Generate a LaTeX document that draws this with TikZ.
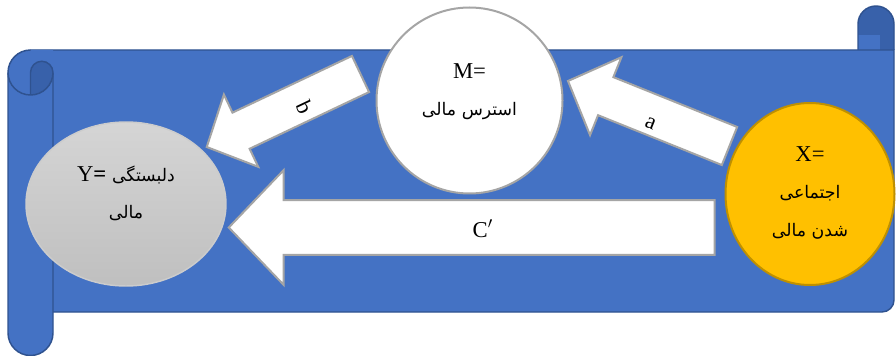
\documentclass[tikz,border=0pt]{standalone}
\usepackage{fontspec}
\setmainfont{Liberation Serif}
\newfontfamily\farsi[Script=Arabic]{DejaVu Sans}
\TeXXeTstate=1
\usepackage{tikz}
\usetikzlibrary{shapes.geometric, calc, positioning}

\definecolor{scrollblue}{HTML}{4472C4}
\definecolor{scrollline}{HTML}{2F528F}
\definecolor{scrolldark}{HTML}{3861AA}
\definecolor{gold}{HTML}{FFC000}
\definecolor{goldline}{HTML}{BF9000}
\definecolor{arrline}{HTML}{A5A5A5}

\newcommand{\fa}[1]{{\farsi\fontsize{13}{28}\selectfont #1}}

\begin{document}
\begin{tikzpicture}[
    x=0.75pt, y=-0.75pt,
    scroll/.style={fill=scrollblue, draw=scrollline, line width=1.1pt},
    edge/.style={draw=scrollline, line width=1.1pt},
    varfont/.style={font=\fontsize{17}{28}\selectfont, align=center},
    ynode/.style={ellipse, minimum width=150pt, minimum height=123pt, top color=gray!33, bottom color=gray!50, draw=gray!40, line width=1.1pt},
    mnode/.style={circle, minimum size=139.5pt, fill=white, draw=arrline, line width=1.5pt},
    xnode/.style={ellipse, minimum width=126.75pt, minimum height=136.5pt, fill=gold, draw=goldline, line width=1.5pt},
    bigarrow/.style args={#1/#2/#3}{fill=white, draw=arrline, line width=1.5pt, line join=miter,
        to path={($(\tikztostart)!#1!90:(\tikztotarget)$)
            -- ($($(\tikztotarget)!#3!(\tikztostart)$)!#1!90:(\tikztotarget)$)
            -- ($($(\tikztotarget)!#3!(\tikztostart)$)!#2!90:(\tikztotarget)$)
            -- (\tikztotarget)
            -- ($($(\tikztotarget)!#3!(\tikztostart)$)!#2!-90:(\tikztotarget)$)
            -- ($($(\tikztotarget)!#3!(\tikztostart)$)!#1!-90:(\tikztotarget)$)
            -- ($(\tikztostart)!#1!-90:(\tikztotarget)$) -- cycle}},
    arrlabel/.style={font=\fontsize{17}{20}\selectfont, sloped}
]
\useasboundingbox (0,0) rectangle (896,356);

% ===== scroll (background) =====
% right roll
\fill[scrollblue] (858,50) -- (858,24) arc[start angle=180, end angle=360, radius=18] -- (894,50) -- cycle;
\fill[scrolldark] (858,24) arc[start angle=180, end angle=360, radius=18] -- (894,50) -- (880,50) -- (880,35) -- (858,35) -- cycle;
\draw[edge] (858,50) -- (858,24) arc[start angle=180, end angle=360, radius=18] -- (894,50);
% band
\path[scroll] (30.5,50) -- (894,50) -- (894,300) arc[start angle=0, end angle=90, radius=12] -- (30.5,312) -- cycle;
% left roll
\fill[scrollblue] (8,72.5) arc[start angle=180, end angle=270, radius=22.5] -- (53,50) -- (53,333) arc[start angle=0, end angle=180, radius=22.5] -- cycle;
\fill[scrolldark] (30.5,72.5) arc[start angle=180, end angle=360, radius=11.25] arc[start angle=0, end angle=90, radius=22.5] -- cycle;
\draw[edge] (30.5,50) arc[start angle=270, end angle=180, radius=22.5] -- (8,333) arc[start angle=180, end angle=0, radius=22.5] -- (53,72.5);
\draw[edge] (8,72.5) arc[start angle=180, end angle=0, radius=22.5];
\draw[edge] (30.5,95) -- (30.5,72.5) arc[start angle=180, end angle=360, radius=11.25];

% ===== variables =====
\node[ynode, label={[name=Ytext, varfont, yshift=8pt]center:{Y\textbf{=} \fa{\beginR دلبستگی\endR}\\\fa{\beginR مالی\endR}}}] (Y) at (126,204) {};
\node[mnode, label={[name=Mtext, varfont, yshift=6.5pt]center:{M=\\\fa{\beginR استرس مالی\endR}}}] (M) at (469.5,100.5) {};
\node[xnode, label={[name=Xtext, varfont, yshift=1pt]center:{X=\\\fa{\beginR اجتماعی\endR}\\\fa{\beginR شدن مالی\endR}}}] (X) at (810,194) {};

% arrow ends
\coordinate (cTail) at ($(X.west)+(-10,33.5)$);
\coordinate (cTip) at ($(Y.east)+(2,23.5)$);
\coordinate (aTail) at ($(X.west)+(5,-48)$);
\coordinate (aTip) at ($(M.east)+(4.5,-19.5)$);
\coordinate (bTail) at ($(M.west)+(-15,-26.5)$);
\coordinate (bTip) at ($(Y.east)+(-20,-57)$);

% ===== paths =====
\draw[bigarrow=20.6pt/43.1pt/41.25pt] (cTail) to (cTip);
\draw[bigarrow=15.4pt/31.5pt/30.5pt] (aTail) to (aTip);
\draw[bigarrow=15pt/30pt/28.5pt] (bTail) to (bTip);

\path (cTail) -- node[arrlabel, pos=0.477, anchor=north, inner sep=0pt, yshift=6pt] (cLabel) {C$'$} (cTip);
\path (aTail) -- node[arrlabel, pos=0.47, anchor=north, inner sep=2pt] (aLabel) {a} (aTip);
\path (bTail) -- node[arrlabel, pos=0.376, anchor=north, inner sep=0pt] (bLabel) {\rotatebox{-90}{b}} (bTip);

\end{tikzpicture}
\end{document}
